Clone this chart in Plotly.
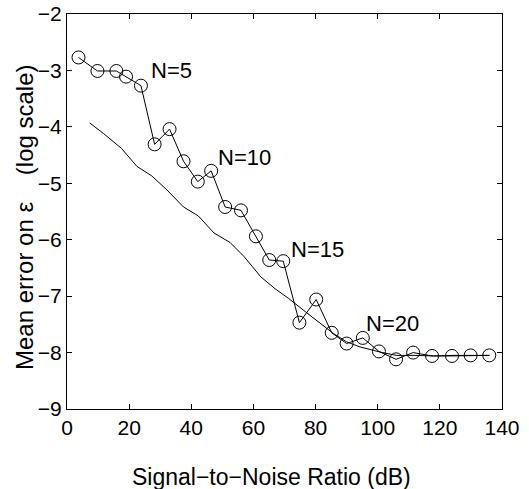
import plotly.graph_objects as go

# Circle-marked series (N varies)
snr_circ = [3.7, 9.8, 15.9, 19.0, 23.8, 28.2, 33.0, 37.5, 42.1, 46.4, 50.9, 56.0,
            60.8, 65.1, 69.6, 74.8, 80.2, 85.2, 90.0, 95.2, 100.4, 105.9, 111.4,
            117.5, 123.9, 129.9, 135.9]
err_circ = [-2.77, -3.01, -3.01, -3.11, -3.27, -4.31, -4.04, -4.61, -4.97, -4.78,
            -5.42, -5.48, -5.94, -6.36, -6.38, -7.47, -7.06, -7.65, -7.84, -7.74,
            -7.98, -8.12, -8.00, -8.06, -8.06, -8.05, -8.05]

# Solid reference curve
snr_line = [7.3, 11.8, 17.5, 22.5, 27.3, 32.2, 37.5, 42.3, 47.3, 52.5, 57.0, 62.4,
            67.0, 71.3, 78.2, 85.7, 90.0, 94.3, 100.7, 106.0, 112.0, 118.0, 124.0,
            130.0, 136.0]
err_line = [-3.93, -4.12, -4.38, -4.70, -4.87, -5.12, -5.42, -5.58, -5.88, -6.05,
            -6.30, -6.66, -6.87, -7.04, -7.34, -7.66, -7.81, -7.90, -7.99, -8.05,
            -8.05, -8.06, -8.05, -8.05, -8.05]

# Labels
lab_text = ["N=5", "N=10", "N=15", "N=20"]
lab_x = [26.3, 47.8, 71.6, 95.5]
lab_y = [-3.01, -4.55, -6.18, -7.48]

x_ticks = [0, 20, 40, 60, 80, 100, 120, 140]
y_ticks = [-9, -8, -7, -6, -5, -4, -3, -2]

x_title = "Signal\u2212to\u2212Noise Ratio (dB)"
y_title = "Mean\u00a0error\u00a0on\u00a0\u03b5\u00a0\u00a0\u00a0\u00a0(log\u00a0scale)"

FONT = "Liberation Sans, Arial, sans-serif"

fig = go.Figure()
fig.add_trace(go.Scatter(x=snr_line, y=err_line, mode="lines",
                         line=dict(color="black", width=1), showlegend=False))
fig.add_trace(go.Scatter(x=snr_circ, y=err_circ, mode="lines+markers",
                         line=dict(color="black", width=1),
                         marker=dict(symbol="circle-open", size=13,
                                     color="black", line=dict(width=1)),
                         showlegend=False))

for t, x, y in zip(lab_text, lab_x, lab_y):
    fig.add_annotation(x=x, y=y, text=t, showarrow=False, xanchor="left",
                       yanchor="middle", font=dict(size=22, color="black", family=FONT))

# axis titles as annotations for exact placement
fig.add_annotation(xref="paper", yref="paper", x=-0.099, y=0.486, text=y_title,
                   textangle=-90, showarrow=False, xanchor="center", yanchor="middle",
                   font=dict(size=24, color="black", family=FONT))
fig.add_annotation(xref="paper", yref="paper", x=0.471, y=-0.172, text=x_title,
                   showarrow=False, xanchor="center", yanchor="middle",
                   font=dict(size=23, color="black", family=FONT))

axis_common = dict(showline=True, linecolor="black", linewidth=1.3, mirror="ticks",
                   ticks="inside", ticklen=5, tickcolor="black", tickwidth=1,
                   showgrid=False, zeroline=False,
                   tickfont=dict(size=21, color="black", family=FONT))

fig.update_xaxes(range=[0, 140], tickvals=x_ticks, **axis_common)
fig.update_yaxes(range=[-9, -2], tickvals=y_ticks, **axis_common)

fig.update_layout(width=529, height=489, plot_bgcolor="white", paper_bgcolor="white",
                  margin=dict(l=67, r=27, t=14, b=80, autoexpand=False),
                  font=dict(family=FONT, color="black"))

fig.write_html("out.html", config={"displayModeBar": False},
               post_script="document.body.style.margin='0';")
